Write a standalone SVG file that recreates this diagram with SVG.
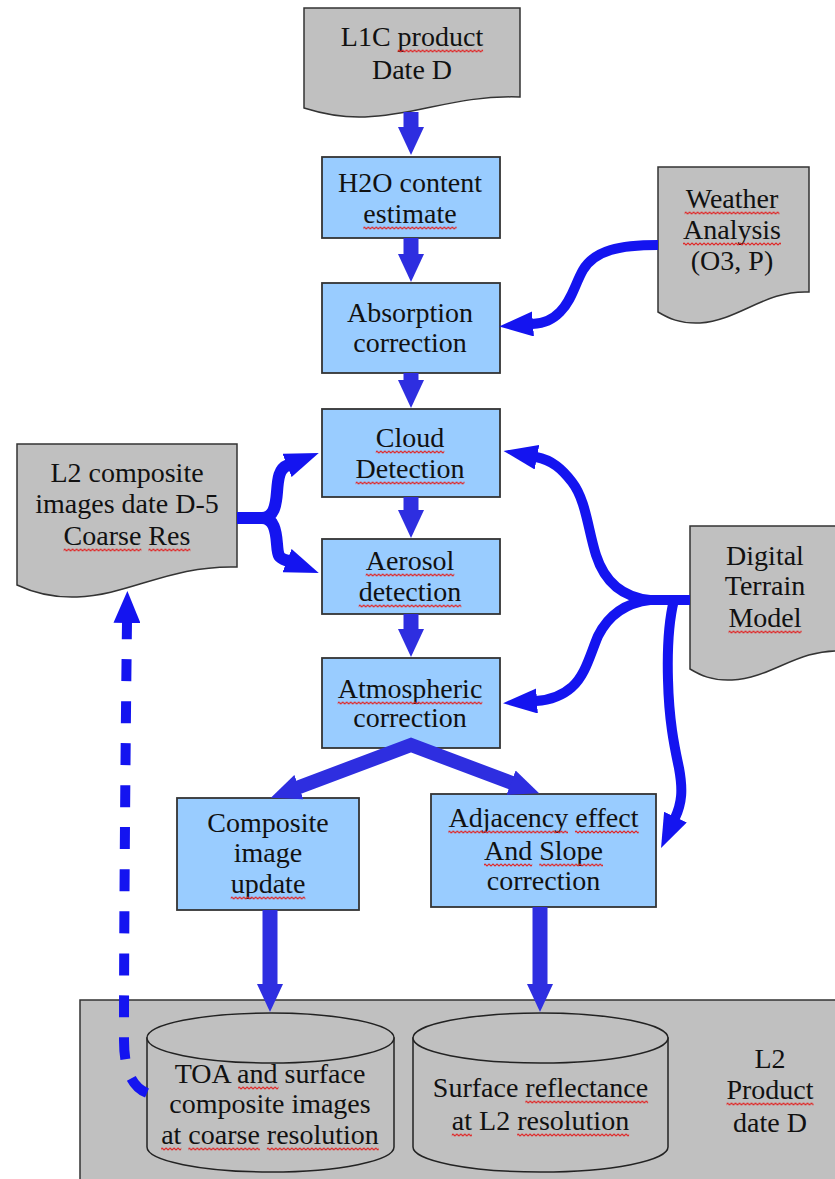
<svg xmlns="http://www.w3.org/2000/svg" width="835" height="1179" viewBox="0 0 835 1179">
<style>
.box{fill:#99ccff;stroke:#333;stroke-width:1.8}
.doc{fill:#c0c0c0;stroke:#333;stroke-width:1.5}
.cyl{fill:#c0c0c0;stroke:#222;stroke-width:1.5}
text{font-family:"Liberation Serif","Times New Roman",serif;font-size:28px;fill:#111;text-anchor:middle}
.st{fill:none;stroke:#2e2ee0;stroke-width:15}
.cv{fill:none;stroke:#1414f0;stroke-width:10}
.sp{fill:none;stroke:#2e2ee0;stroke-width:14;stroke-linejoin:miter}
.fk{fill:none;stroke:#1414f0;stroke-width:12}
.ds{fill:none;stroke:#1414f0;stroke-width:10;stroke-dasharray:22 20}
.wv{fill:url(#wave)}
</style>
<defs>
<pattern id="wave" width="4" height="4" patternUnits="userSpaceOnUse"><path d="M-1,3 L1,1 L3,3 L5,1" fill="none" stroke="#e02828" stroke-width="1.2"/></pattern>
<marker id="hs" markerUnits="userSpaceOnUse" viewBox="0 0 28 26" markerWidth="28" markerHeight="26" refX="1" refY="13" orient="auto"><path d="M0,0 L28,13 L0,26 Z" fill="#2e2ee0"/></marker>
<marker id="hsp" markerUnits="userSpaceOnUse" viewBox="0 0 30 26" markerWidth="30" markerHeight="26" refX="1" refY="13" orient="auto-start-reverse"><path d="M0,0 L30,13 L0,26 Z" fill="#2e2ee0"/></marker>
<marker id="hc" markerUnits="userSpaceOnUse" viewBox="0 0 34 25" markerWidth="34" markerHeight="25" refX="1" refY="12.5" orient="auto"><path d="M0,0 L34,12.5 L0,25 Z" fill="#1414f0"/></marker>
<marker id="hd" markerUnits="userSpaceOnUse" viewBox="0 0 32 27" markerWidth="32" markerHeight="27" refX="1" refY="13.5" orient="auto"><path d="M0,0 L32,13.5 L0,27 Z" fill="#1414f0"/></marker>
</defs>

<g id="l2product">
<rect x="80" y="1000" width="770" height="200" fill="#c0c0c0" stroke="#333" stroke-width="1.5"/>
<text x="770" y="1068">L2</text>
<text x="770" y="1099">Product</text>
<text x="770" y="1132">date D</text>
<rect class="wv" transform="translate(726.5,1102)" width="87" height="4"/>
</g>

<g id="l1c">
<path class="doc" d="M304,8 H520 V97 C455,95 420,115 365,117 C340,118 320,113 304,108 Z"/>
<text x="412" y="46">L1C product</text>
<text x="412" y="79">Date D</text>
<rect class="wv" transform="translate(397.6,49)" width="85.5" height="4"/>
</g>

<g id="h2o">
<rect class="box" x="322" y="157" width="178" height="81"/>
<text x="410" y="192">H2O content</text>
<text x="410" y="223">estimate</text>
<rect class="wv" transform="translate(363.3,226)" width="93.3" height="4"/>
</g>

<g id="weather">
<path class="doc" d="M658,167 H809 V292 C765,290 740,320 700,323 C680,324 668,318 658,312 Z"/>
<text x="732" y="208">Weather</text>
<text x="732" y="239">Analysis</text>
<text x="732" y="270">(O3, P)</text>
<rect class="wv" transform="translate(684.6,211)" width="94.8" height="4"/>
<rect class="wv" transform="translate(683,242)" width="98" height="4"/>
</g>

<g id="absorption">
<rect class="box" x="322" y="283" width="178" height="90"/>
<text x="410" y="322">Absorption</text>
<text x="410" y="352">correction</text>
</g>

<g id="cloud">
<rect class="box" x="322" y="409" width="178" height="88"/>
<text x="410" y="447">Cloud</text>
<text x="410" y="478">Detection</text>
<rect class="wv" transform="translate(375.8,450)" width="68.5" height="4"/>
<rect class="wv" transform="translate(355.6,481)" width="108.9" height="4"/>
</g>

<g id="l2composite">
<path class="doc" d="M17,444 H237 V567 C170,565 130,595 77,597 C50,598 32,592 17,585 Z"/>
<text x="127" y="482">L2 composite</text>
<text x="127" y="513">images date D-5</text>
<text x="127" y="545">Coarse Res</text>
<rect class="wv" transform="translate(63.6,548)" width="77.8" height="4"/>
<rect class="wv" transform="translate(148.4,548)" width="42" height="4"/>
</g>

<g id="aerosol">
<rect class="box" x="322" y="539" width="178" height="75"/>
<text x="410" y="570">Aerosol</text>
<text x="410" y="601">detection</text>
<rect class="wv" transform="translate(365.7,573)" width="88.6" height="4"/>
<rect class="wv" transform="translate(358.7,604)" width="102.6" height="4"/>
</g>

<g id="dtm">
<path class="doc" d="M690,526 H841 V651 C797,649 772,678 732,680 C712,681 700,675 690,669 Z"/>
<text x="765" y="565">Digital</text>
<text x="765" y="595">Terrain</text>
<text x="765" y="627">Model</text>
<rect class="wv" transform="translate(728.5,630)" width="73.1" height="4"/>
</g>

<g id="atmospheric">
<rect class="box" x="322" y="658" width="178" height="90"/>
<text x="410" y="698">Atmospheric</text>
<text x="410" y="727">correction</text>
<rect class="wv" transform="translate(337.7,701)" width="144.6" height="4"/>
</g>

<g id="composite">
<rect class="box" x="177" y="798" width="182" height="112"/>
<text x="268" y="832">Composite</text>
<text x="268" y="862">image</text>
<text x="268" y="893">update</text>
<rect class="wv" transform="translate(230.7,896)" width="74.6" height="4"/>
</g>

<g id="adjacency">
<rect class="box" x="431" y="794" width="225" height="113"/>
<text x="543.5" y="827">Adjacency effect</text>
<text x="543.5" y="860">And Slope</text>
<text x="543.5" y="890">correction</text>
<rect class="wv" transform="translate(448.3,830)" width="119.7" height="4"/>
<rect class="wv" transform="translate(575,830)" width="63.7" height="4"/>
<rect class="wv" transform="translate(484,863)" width="48.2" height="4"/>
<rect class="wv" transform="translate(539.2,863)" width="63.8" height="4"/>
</g>

<g id="toa">
<path class="cyl" d="M147,1038 V1147 A123.5,25 0 0 0 394,1147 V1038 Z"/>
<ellipse class="cyl" cx="270.5" cy="1038" rx="123.5" ry="25"/>
<text x="270" y="1083">TOA and surface</text>
<text x="270" y="1113">composite images</text>
<text x="270" y="1144">at coarse resolution</text>
<rect class="wv" transform="translate(238.1,1086)" width="40.4" height="4"/>
<rect class="wv" transform="translate(161.1,1147)" width="20.2" height="4"/>
<rect class="wv" transform="translate(188.3,1147)" width="71.5" height="4"/>
<rect class="wv" transform="translate(266.8,1147)" width="112" height="4"/>
</g>

<g id="surface">
<path class="cyl" d="M413,1038 V1147 A127.5,25 0 0 0 668,1147 V1038 Z"/>
<ellipse class="cyl" cx="540.5" cy="1038" rx="127.5" ry="25"/>
<text x="540.5" y="1097">Surface reflectance</text>
<text x="540.5" y="1130">at L2 resolution</text>
<rect class="wv" transform="translate(525.3,1100)" width="122.8" height="4"/>
<rect class="wv" transform="translate(451.8,1133)" width="20.2" height="4"/>
<rect class="wv" transform="translate(517.1,1133)" width="112" height="4"/>
</g>

<g id="connectors">
<path class="st" d="M411,112 V128" marker-end="url(#hs)"/>
<path class="st" d="M411,238 V255" marker-end="url(#hs)"/>
<path class="st" d="M411,373 V381" marker-end="url(#hs)"/>
<path class="st" d="M411,497 V511" marker-end="url(#hs)"/>
<path class="st" d="M411,614 V630" marker-end="url(#hs)"/>
<path class="sp" d="M298,787.5 L411,745 L512,783" marker-start="url(#hsp)" marker-end="url(#hsp)"/>
<path class="st" d="M270,910 V985" marker-end="url(#hs)"/>
<path class="st" d="M540,907 V985" marker-end="url(#hs)"/>
<path class="cv" d="M658,245 C620,245 595,250 583,270 C575,284 572,300 560,312 C552,320 545,323 532,324" marker-end="url(#hc)"/>
<path class="fk" d="M237,518 H262 C274,518 276,505 277,492 C278,478 279,468.5 288,465" marker-end="url(#hc)"/>
<path class="fk" d="M262,518 C274,518 276,531 277,544 C278,558 279,557.5 288,561" marker-end="url(#hc)"/>
<path class="cv" d="M690,600 H650 C620,597 604,580 596,555 C588,530 586,500 572,482 C562,469 552,460 536,457" marker-end="url(#hc)"/>
<path class="cv" d="M690,600 H650 C624,603 608,616 598,636 C590,655 585,676 572,687 C562,696 551,700 536,701" marker-end="url(#hc)"/>
<path class="cv" d="M690,600 H674 C669,620 667,645 668,680 C669,720 674,745 679,768 C683,790 682,803 675,818" marker-end="url(#hc)"/>
<path class="ds" d="M147,1093 C130,1086 124,1066 124,1040 C124,900 126,700 127,622" marker-end="url(#hd)"/>
</g>
</svg>
